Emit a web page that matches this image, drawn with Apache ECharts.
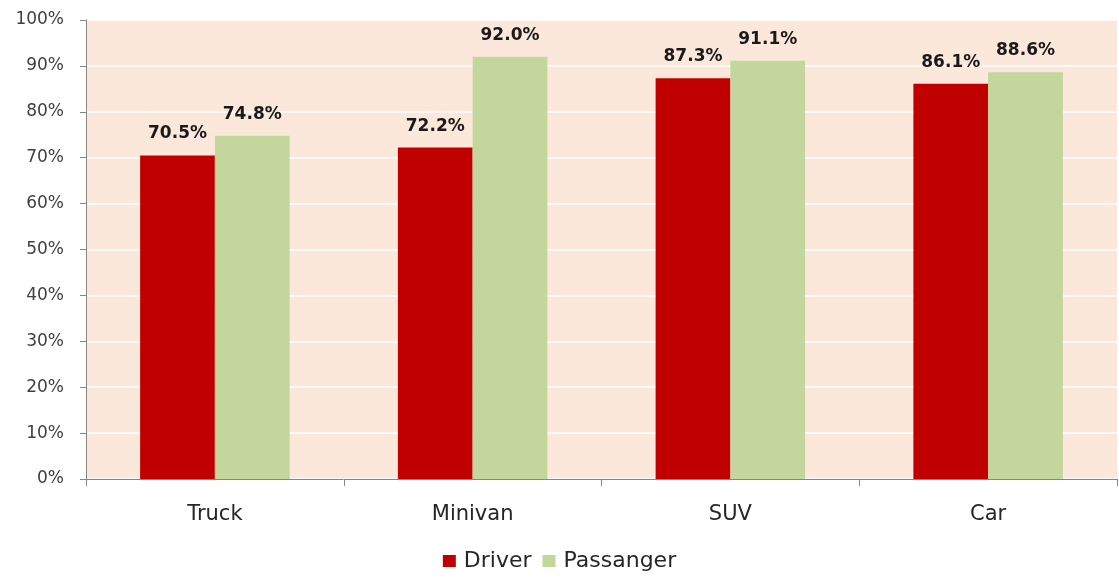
<!DOCTYPE html>
<html><head><meta charset="utf-8">
<script src="https://cdn.jsdelivr.net/npm/echarts@6/dist/echarts.min.js"></script>
<style>html,body{margin:0;padding:0;background:#fff}#c{width:1119px;height:577px}</style>
</head><body><div id="c"></div>
<script>
const categories = ['Truck', 'Minivan', 'SUV', 'Car'];
const driver = [70.5, 72.2, 87.3, 86.1];
const passenger = [74.8, 92.0, 91.1, 88.6];
const seriesNames = ['Driver', 'Passanger'];

const chart = echarts.init(document.getElementById('c'));
const font = '"DejaVu Sans", sans-serif';
const labelCfg = {
  show: true, position: 'top', distance: 13,
  formatter: p => p.value.toFixed(1) + '%',
  fontFamily: font, fontWeight: 'bold', fontSize: 17, color: '#1a1a1a'
};
chart.setOption({
  animation: false,
  grid: { left: 86, right: 2, top: 20, bottom: 98, show: true, backgroundColor: '#FCE8DA', borderWidth: 0 },
  legend: {
    bottom: 0, left: 'center', itemWidth: 13, itemHeight: 12, itemGap: 11,
    icon: 'rect',
    textStyle: { fontFamily: font, fontSize: 22, color: '#262626', padding: [0, 0, 0, 3] },
    data: seriesNames
  },
  xAxis: {
    type: 'category', data: categories,
    axisLine: { lineStyle: { color: '#868686' } },
    axisTick: { show: true, length: 7, lineStyle: { color: '#868686' } },
    axisLabel: { fontFamily: font, fontSize: 21, color: '#262626', margin: 25 }
  },
  yAxis: {
    type: 'value', min: 0, max: 100, interval: 10,
    axisLine: { show: true, lineStyle: { color: '#868686' } },
    axisTick: { show: true, length: 6, lineStyle: { color: '#868686' } },
    splitLine: { lineStyle: { color: '#ffffff', width: 1.5 } },
    axisLabel: { fontFamily: font, fontSize: 17, color: '#404040', margin: 22, formatter: v => v + '%' }
  },
  series: [
    { name: seriesNames[0], type: 'bar', data: driver, barGap: '0%', barCategoryGap: '42%',
      itemStyle: { color: '#C00000' }, label: labelCfg },
    { name: seriesNames[1], type: 'bar', data: passenger, barGap: '0%', barCategoryGap: '42%',
      itemStyle: { color: '#C3D69B' }, label: labelCfg }
  ]
});
</script></body></html>
